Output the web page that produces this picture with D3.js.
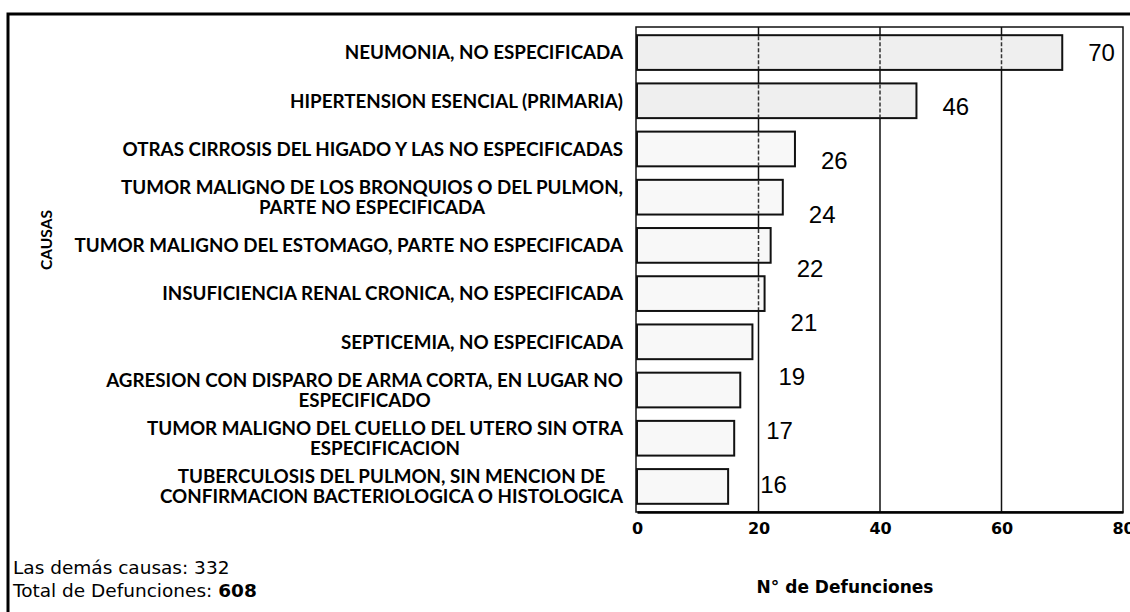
<!DOCTYPE html>
<html lang="es">
<head>
<meta charset="utf-8">
<script src="https://d3js.org/d3.v7.min.js"></script>
<style>
  body { margin: 0; background: #fff; }
</style>
</head>
<body>
<script>
// causes of death, top 10 (value = deaths)
const causes = [
  ["NEUMONIA, NO ESPECIFICADA"],
  ["HIPERTENSION ESENCIAL (PRIMARIA)"],
  ["OTRAS CIRROSIS DEL HIGADO Y LAS NO ESPECIFICADAS"],
  ["TUMOR MALIGNO DE LOS BRONQUIOS O DEL PULMON,", "PARTE NO ESPECIFICADA"],
  ["TUMOR MALIGNO DEL ESTOMAGO, PARTE NO ESPECIFICADA"],
  ["INSUFICIENCIA RENAL CRONICA, NO ESPECIFICADA"],
  ["SEPTICEMIA, NO ESPECIFICADA"],
  ["AGRESION CON DISPARO DE ARMA CORTA, EN LUGAR NO", "ESPECIFICADO"],
  ["TUMOR MALIGNO DEL CUELLO DEL UTERO SIN OTRA", "ESPECIFICACION"],
  ["TUBERCULOSIS DEL PULMON, SIN MENCION DE", "CONFIRMACION BACTERIOLOGICA O HISTOLOGICA"]
];
const deaths = [70, 46, 26, 24, 22, 21, 19, 17, 16, 15];
const xTicks = [0, 20, 40, 60, 80];
const otherCauses = 332;
const totalDeaths = 608;

const W = 1130, H = 612;
const plot = { left: 637, right: 1123, top: 27, bottom: 512 };

const svg = d3.select("body").append("svg")
  .attr("width", W)
  .attr("height", H);

svg.append("rect").attr("width", W).attr("height", H).attr("fill", "#fff");

// outer frame (top and left edges only are visible)
svg.append("path")
  .attr("d", `M8,${H} V14 H${W}`)
  .attr("fill", "none")
  .attr("stroke", "#000")
  .attr("stroke-width", 3);

const x = d3.scaleLinear().domain([0, 80]).range([plot.left, plot.right]);
const y = d3.scaleBand()
  .domain(d3.range(causes.length))
  .range([plot.top, plot.bottom])
  .paddingInner(0.28)
  .paddingOuter(0.17);

// grid lines
svg.append("g")
  .selectAll("line")
  .data(xTicks.slice(1, -1))
  .join("line")
  .attr("x1", d => x(d)).attr("x2", d => x(d))
  .attr("y1", plot.top).attr("y2", plot.bottom)
  .attr("stroke", "#111")
  .attr("stroke-width", 1.5);

// plot frame
svg.append("rect")
  .attr("x", plot.left - 1).attr("y", plot.top)
  .attr("width", plot.right - plot.left + 1)
  .attr("height", plot.bottom - plot.top)
  .attr("fill", "none")
  .attr("stroke", "#111")
  .attr("stroke-width", 1.5);

// bars
const bars = svg.append("g");
bars.selectAll("rect")
  .data(deaths)
  .join("rect")
  .attr("x", x(0))
  .attr("y", (d, i) => y(i))
  .attr("width", d => x(d) - x(0))
  .attr("height", y.bandwidth())
  .attr("fill", (d, i) => i < 2 ? "#efefef" : "#f8f8f8")
  .attr("stroke", "#111")
  .attr("stroke-width", 2);

// grid shows through the bars as a broken line
deaths.forEach((v, i) => {
  bars.selectAll(null)
    .data(xTicks.filter(t => t > 0 && t < v))
    .join("line")
    .attr("x1", t => x(t)).attr("x2", t => x(t))
    .attr("y1", y(i) + 1).attr("y2", y(i) + y.bandwidth() - 1)
    .attr("stroke", "#333")
    .attr("stroke-width", 1.5)
    .attr("stroke-dasharray", "4,2");
});

// bottom axis
const xAxis = svg.append("g")
  .attr("transform", `translate(0,${plot.bottom})`)
  .call(d3.axisBottom(x).tickValues(xTicks).tickSize(0).tickPadding(11));
xAxis.select(".domain").attr("stroke", "#000").attr("stroke-width", 2.5);
xAxis.selectAll("text")
  .attr("font-family", "DejaVu Sans")
  .attr("font-weight", "bold")
  .attr("font-size", 16)
  .attr("fill", "#000");

// value labels; in the source they slide a little lower row by row
svg.append("clipPath").attr("id", "plotClip")
  .append("rect")
  .attr("x", plot.left).attr("y", plot.top)
  .attr("width", W - plot.left).attr("height", plot.bottom - plot.top);

svg.append("g")
  .attr("clip-path", "url(#plotClip)")
  .selectAll("text")
  .data(deaths)
  .join("text")
  .attr("x", d => x(d) + 26)
  .attr("y", (d, i) => y(i) + y.bandwidth() / 2 + i * 5.8)
  .attr("dy", "0.36em")
  .attr("font-family", "Liberation Sans, Arial, sans-serif")
  .attr("font-size", 24)
  .attr("fill", "#000")
  .text(d => d);

// category labels: block right-aligned at the axis, lines centred in it
const labelRight = 623;
const lab = svg.append("g")
  .attr("font-family", "Lato, sans-serif")
  .attr("font-weight", "bold")
  .attr("font-size", 18.8)
  .attr("fill", "#000");

causes.forEach((lines, i) => {
  const g = lab.append("g");
  const cy = y(i) + y.bandwidth() / 2;
  const lh = 20;
  const ts = g.selectAll("text")
    .data(lines)
    .join("text")
    .attr("y", (d, k) => cy + (k - (lines.length - 1) / 2) * lh)
    .attr("dy", "0.36em")
    .attr("text-anchor", "middle")
    .text(d => d);
  const wMax = d3.max(ts.nodes(), n => n.getComputedTextLength());
  ts.attr("x", labelRight - wMax / 2);
});

// axis titles
svg.append("text")
  .attr("transform", "translate(46,240) rotate(-90)")
  .attr("text-anchor", "middle")
  .attr("dy", "0.36em")
  .attr("font-family", "Lato, sans-serif")
  .attr("font-weight", "bold")
  .attr("font-size", 15.5)
  .text("CAUSAS");

svg.append("text")
  .attr("x", 845).attr("y", 593)
  .attr("text-anchor", "middle")
  .attr("font-family", "DejaVu Sans")
  .attr("font-weight", "bold")
  .attr("font-size", 17)
  .text("N° de Defunciones");

// footnotes
const foot = svg.append("g")
  .attr("font-family", "DejaVu Sans, sans-serif")
  .attr("font-size", 18.5)
  .attr("fill", "#000");
foot.append("text")
  .attr("x", 13).attr("y", 574)
  .text(`Las demás causas: ${otherCauses}`);
const t2 = foot.append("text")
  .attr("x", 13).attr("y", 597);
t2.append("tspan").text("Total de Defunciones: ");
t2.append("tspan").attr("font-weight", "bold").text(totalDeaths);
</script>
</body>
</html>
